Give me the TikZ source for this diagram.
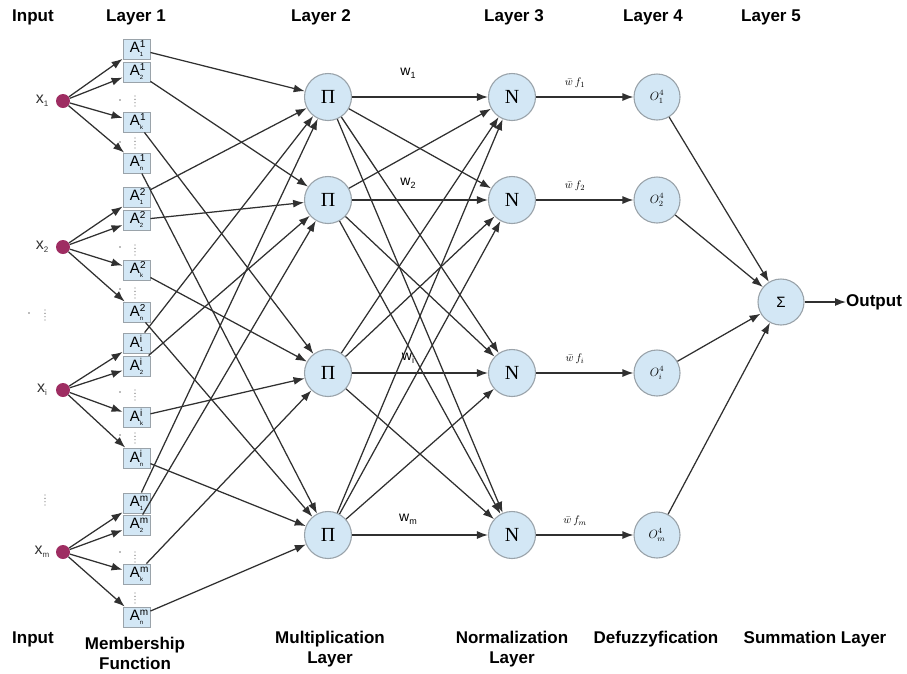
\documentclass[tikz,border=0pt]{standalone}
\usepackage{fontspec}
\setmainfont{Liberation Sans}
\newfontfamily\serifA{Liberation Serif}
\usetikzlibrary{arrows.meta}
\definecolor{nodefill}{HTML}{D3E7F5}
\definecolor{nodeedge}{HTML}{9AA3AA}
\definecolor{inpurple}{HTML}{9E2D62}
\definecolor{wire}{HTML}{303030}
\definecolor{dotgray}{HTML}{7A7A7A}
\newcommand{\Alab}[2]{\fontsize{15}{15}\selectfont A\rlap{\raisebox{5pt}{\fontsize{10}{10}\selectfont #1}}\raisebox{-4pt}{\fontsize{6}{6}\selectfont #2}\hspace{4pt}}
\newcommand{\xlab}[1]{\fontsize{16}{16}\selectfont x\raisebox{-3pt}{\fontsize{8}{8}\selectfont #1}}
\newcommand{\wlab}[1]{\fontsize{14}{14}\selectfont w\raisebox{-3pt}{\fontsize{9}{9}\selectfont #1}}
\newcommand{\vdotsat}[2]{\foreach \dd in {-5,-1.7,1.7,5} {\fill[dotgray] (#1,#2+\dd) circle (0.7pt);}}
\begin{document}
\begin{tikzpicture}[x=1pt,y=-1pt,
  wirestyle/.style={draw=wire, line width=1.25pt},
  arr/.style={wirestyle, -{Latex[length=11pt,width=8pt]}},
  neuron/.style={circle, fill=nodefill, draw=nodeedge, line width=1.1pt, minimum size=47pt, inner sep=0pt},
  mfbox/.style={rectangle, fill=nodefill, draw=nodeedge, line width=0.9pt, minimum width=27pt, minimum height=20pt, inner sep=0pt},
  indot/.style={circle, fill=inpurple, minimum size=14pt, inner sep=0pt},
  head/.style={font=\fontsize{17}{20}\selectfont\bfseries, align=center, inner sep=0pt},
  xtext/.style={text=black!80, inner sep=0pt},
  small/.style={inner sep=0pt}
]
\useasboundingbox (0,0) rectangle (907,673);

% headers
\node[head] (h0) at (33,17) {Input};
\node[head] (h1) at (136,17) {Layer 1};
\node[head] (h2) at (321,17) {Layer 2};
\node[head] (h3) at (514,17) {Layer 3};
\node[head] (h4) at (653,17) {Layer 4};
\node[head] (h5) at (771,17) {Layer 5};

% footers
\node[head] (f0) at (33,639) {Input};
\node[head] (f1) at (135,653) {Membership\\Function};
\node[head] (f2) at (330,649) {Multiplication\\Layer};
\node[head] (f3) at (512,649) {Normalization\\Layer};
\node[head] (f4) at (656,639) {Defuzzyfication};
\node[head] (f5) at (815,639) {Summation Layer};

% inputs and membership boxes
\foreach \g/\sp/\xy/\ya/\yb/\yc/\yd in {1/1/101/49/72/122/163, 2/2/247/197/220/270/312, 3/i/390/343/366/417/458, 4/m/552/503/525/574/617} {
  \node[indot] (X\g) at (63,\xy) {};
  \node[xtext] (XL\g) at (42,\xy) {\xlab{\sp}};
  \node[mfbox] (A\g-1) at (136.5,\ya) {\Alab{\sp}{1}};
  \node[mfbox] (A\g-2) at (136.5,\yb) {\Alab{\sp}{2}};
  \node[mfbox] (A\g-3) at (136.5,\yc) {\Alab{\sp}{k}};
  \node[mfbox] (A\g-4) at (136.5,\yd) {\Alab{\sp}{n}};
}

% dots
\fill[dotgray] (120,100) circle (0.8pt); \vdotsat{135}{101}
\fill[dotgray] (120,142) circle (0.8pt); \vdotsat{135}{143}
\fill[dotgray] (120,247) circle (0.8pt); \vdotsat{135}{250}
\fill[dotgray] (120,289) circle (0.8pt); \vdotsat{135}{293}
\fill[dotgray] (120,392) circle (0.8pt); \vdotsat{135}{395}
\fill[dotgray] (120,435) circle (0.8pt); \vdotsat{135}{438}
\fill[dotgray] (120,552) circle (0.8pt); \vdotsat{135}{557}
\vdotsat{135}{598}
\fill[dotgray] (29,313) circle (0.8pt); \vdotsat{45}{315}
\vdotsat{45}{500}

% layers 2-4
\foreach \r/\yy/\fl in {1/97/1, 2/200/2, 3/373/i, 4/535/m} {
  \node[neuron] (P\r) at (328,\yy) {\serifA\fontsize{20}{20}\selectfont Π};
  \node[neuron] (N\r) at (512,\yy) {\serifA\fontsize{20}{20}\selectfont N};
  \node[neuron, minimum size=46pt] (O\r) at (657,\yy) {\fontsize{12}{12}\selectfont$O^4_{\fl}$};
}
\node[neuron, minimum size=46pt] (S) at (781,302) {\fontsize{15}{15}\selectfont Σ};
\node[head, anchor=west] (Out) at (846,302) {Output};

% connections
\foreach \g in {1,...,4} {
  \foreach \r in {1,...,4} {
    \draw[arr] (X\g) -- (A\g-\r);
    \draw[arr] (A\g-\r) -- (P\r);
  }
}
\foreach \i in {1,...,4} {
  \foreach \j in {1,...,4} {
    \draw[arr] (P\i) -- (N\j);
  }
  \draw[arr] (N\i) -- (O\i);
  \draw[arr] (O\i) -- (S);
}
\draw[arr] (S) -- (Out);

% weight labels
\node[small] (w1) at (408,73) {\wlab{1}};
\node[small] (w2) at (408,183) {\wlab{2}};
\node[small] (w3) at (408,358) {\wlab{i}};
\node[small] (w4) at (408,519) {\wlab{m}};
\foreach \r/\yy/\fl in {1/83/1, 2/186/2, 3/359/i, 4/521/m} {
  \node[small] (F\r) at (575,\yy) {\fontsize{11}{11}\selectfont$\bar{w}\,f_{\fl}$};
}
\end{tikzpicture}
\end{document}
